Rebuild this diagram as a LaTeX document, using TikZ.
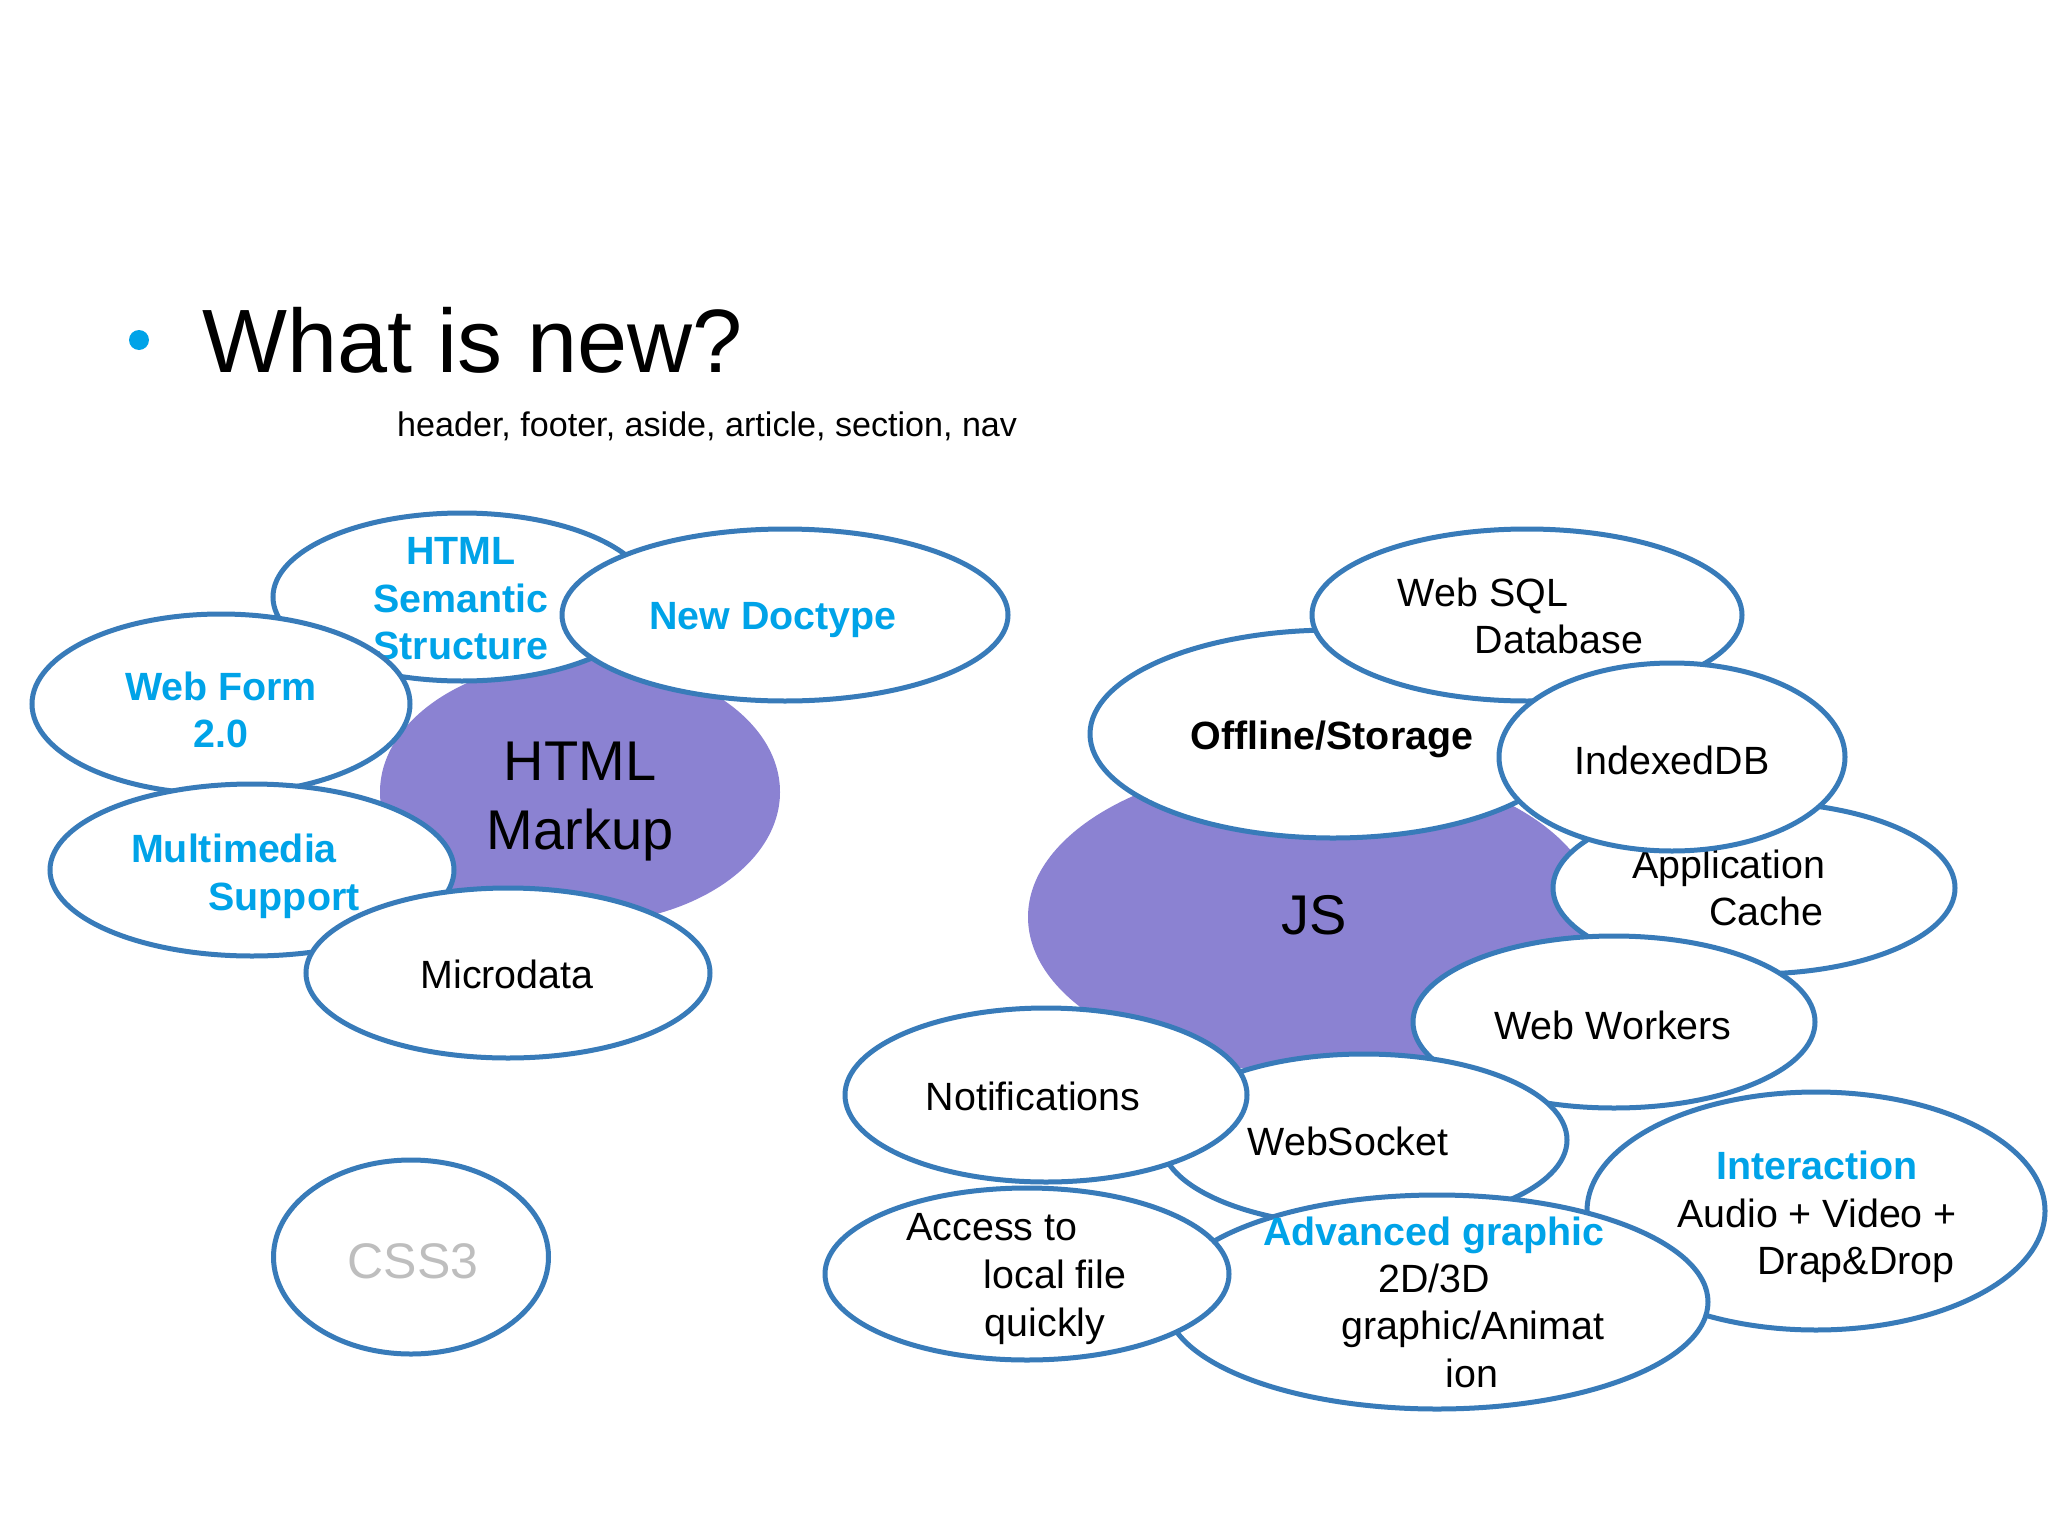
\documentclass[tikz,border=0pt]{standalone}
\usepackage{fontspec}
\setmainfont{Liberation Sans}
\usetikzlibrary{shapes.geometric}
\definecolor{ringblue}{RGB}{56,123,185}
\definecolor{txtblue}{RGB}{0,163,232}
\definecolor{markpurple}{RGB}{139,130,210}
\definecolor{cssgrey}{RGB}{190,190,190}
\tikzset{
  bubble/.style={ellipse, draw=ringblue, line width=5pt, fill=white, inner sep=0pt, outer sep=0pt},
  core/.style={ellipse, fill=markpurple, draw=none, inner sep=0pt, outer sep=0pt},
  lbl/.style={inner sep=0pt, anchor=base, font=\fontsize{39.4pt}{48pt}\selectfont},
  lblb/.style={lbl, font=\fontsize{39.4pt}{48pt}\selectfont\bfseries},
  lblblue/.style={lblb, text=txtblue},
  big/.style={inner sep=0pt, anchor=base, font=\fontsize{56pt}{68pt}\selectfont}
}
\newcommand{\bub}[5]{\node[bubble, minimum width=#4pt, minimum height=#5pt] (#1) at (#2,#3) {};}
\begin{document}
\begin{tikzpicture}[x=1pt,y=-1pt]
\useasboundingbox (0,0) rectangle (2048,1536);
\fill[white] (0,0) rectangle (2048,1536);
% title
\fill[txtblue] (139,340) circle (10) node (bullet) {};
\node[inner sep=0pt, anchor=base west, font=\fontsize{90pt}{100pt}\selectfont] (title) at (202,372) {What is new?};
\node[inner sep=0pt, anchor=base west, font=\fontsize{34.1pt}{40pt}\selectfont] (sub) at (397,436) {header, footer, aside, article, section, nav};
% ---------- left cluster ----------
\node[core, minimum width=400pt, minimum height=264pt] (htmlcore) at (580,792) {};
\bub{sem}{462}{597}{378}{168}
\node[lblblue] (semA) at (461,564) {HTML};
\node[lblblue] (semB) at (461,612) {Semantic};
\node[lblblue] (semC) at (461,659) {Structure};
\bub{doctype}{785}{615}{446}{172}
\node[lblblue] (doctypeT) at (773,629) {New Doctype};
\bub{webform}{221}{704}{378}{180}
\node[lblblue] (webformA) at (221,700) {Web Form};
\node[lblblue] (webformB) at (221,747) {2.0};
\bub{multi}{252}{870}{404}{172}
\node[lblblue] (multiA) at (234,862) {Multimedia};
\node[lblblue] (multiB) at (284,910) {Support};
\bub{micro}{508}{973}{404}{170}
\node[lbl] (microT) at (507,988) {Microdata};
\node[big] (htmlA) at (580,780) {HTML};
\node[big] (htmlB) at (580,849) {Markup};
% CSS3
\bub{css}{411}{1257}{275}{194}
\node[inner sep=0pt, anchor=base, font=\fontsize{50pt}{60pt}\selectfont, text=cssgrey] (cssT) at (413,1278) {CSS3};
% ---------- right cluster ----------
\node[core, minimum width=570pt, minimum height=312pt] (jscore) at (1313,917) {};
\node[big] (jsT) at (1314,934) {JS};
\bub{offline}{1333}{734}{486}{208}
\node[lblb] (offlineT) at (1332,749) {Offline/Storage};
\bub{websql}{1527}{615}{430}{172}
\node[lbl] (websqlA) at (1483,606) {Web SQL};
\node[lbl] (websqlB) at (1559,653) {Database};
\bub{appcache}{1754}{888}{402}{172}
\node[lbl] (appA) at (1729,878) {Application};
\node[lbl] (appB) at (1766,925) {Cache};
\bub{indexed}{1672}{757}{346}{188}
\node[lbl] (indexedT) at (1672,774) {IndexedDB};
\bub{workers}{1614}{1022}{402}{172}
\node[lbl] (workersT) at (1613,1039) {Web Workers};
\bub{interact}{1816}{1211}{458}{238}
\node[lblblue] (interA) at (1817,1179) {Interaction};
\node[lbl] (interB) at (1817,1227) {Audio + Video +};
\node[lbl] (interC) at (1856,1274) {Drap\&Drop};
\bub{socket}{1364}{1140}{406}{172}
\node[lbl] (socketT) at (1348,1155) {WebSocket};
\bub{notif}{1046}{1095}{402}{174}
\node[lbl] (notifT) at (1033,1110) {Notifications};
\bub{graphic}{1437}{1302}{542}{214}
\node[lblblue] (graphA) at (1434,1245) {Advanced graphic};
\node[lbl] (graphB) at (1434,1292) {2D/3D};
\node[lbl] (graphC) at (1473,1339) {graphic/Animat};
\node[lbl] (graphD) at (1472,1387) {ion};
\bub{access}{1027}{1274}{404}{172}
\node[lbl] (accessA) at (992,1240) {Access to};
\node[lbl] (accessB) at (1055,1288) {local file};
\node[lbl] (accessC) at (1045,1336) {quickly};
\end{tikzpicture}
\end{document}
